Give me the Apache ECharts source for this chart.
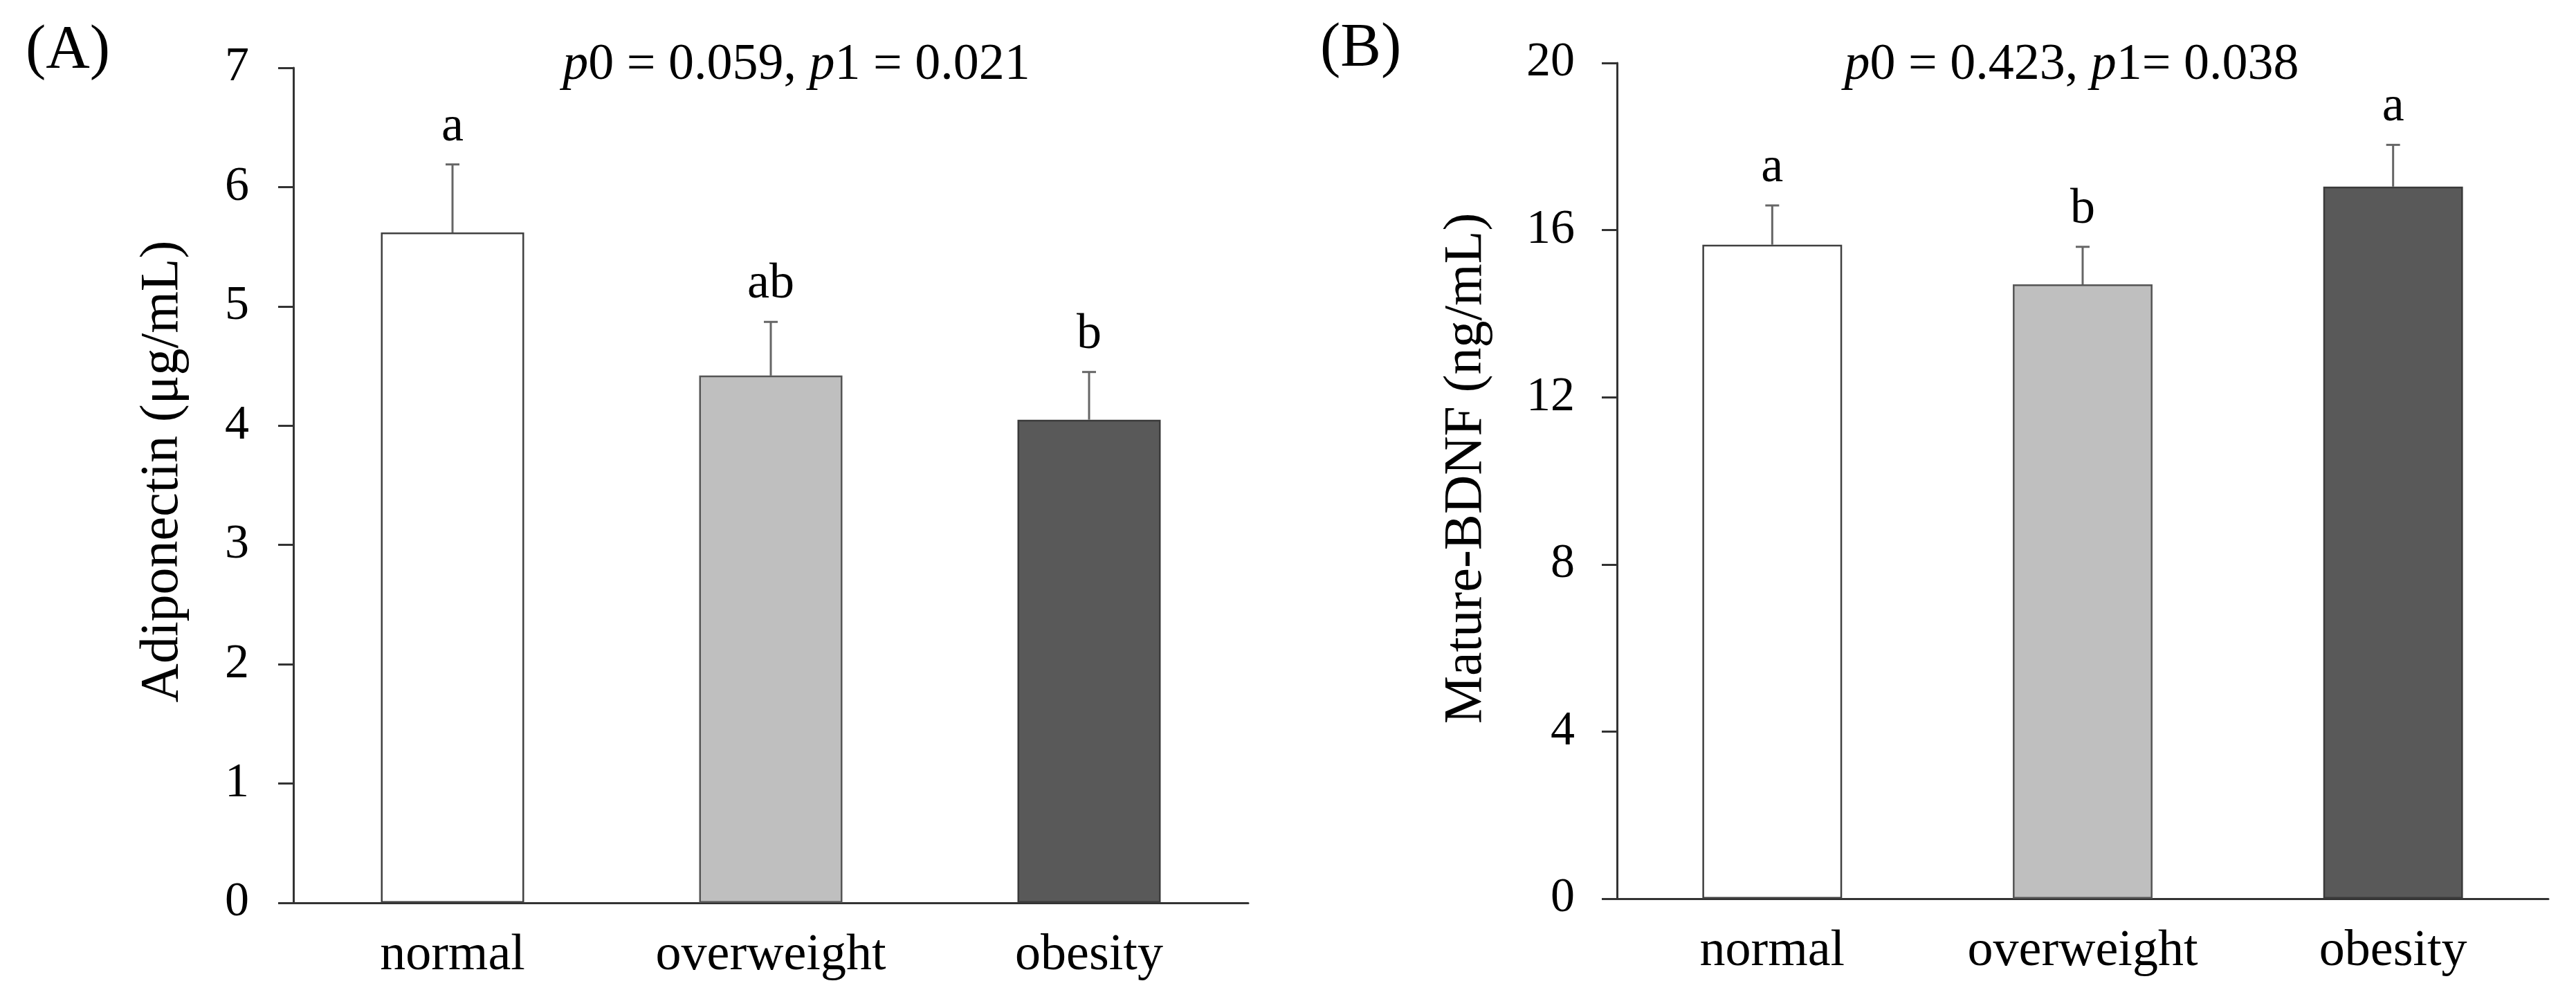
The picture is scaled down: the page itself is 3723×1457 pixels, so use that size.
<!DOCTYPE html>
<html>
<head>
<meta charset="utf-8">
<script src="https://cdn.jsdelivr.net/npm/echarts@6/dist/echarts.min.js"></script>
<style>
html,body{margin:0;padding:0;background:#fff;}
#chart{width:3723px;height:1457px;}
</style>
</head>
<body>
<div id="chart"></div>
<script>
const categories = ['normal', 'overweight', 'obesity'];
const adipoMean = [5.62, 4.42, 4.05];
const adipoErr = [0.57, 0.45, 0.40];
const adipoLetters = ['a', 'ab', 'b'];
const adipoP = ['0.059', '0.021'];
const bdnfMean = [15.65, 14.70, 17.04];
const bdnfErr = [0.94, 0.90, 1.00];
const bdnfLetters = ['a', 'b', 'a'];
const bdnfP = ['0.423', '0.038'];
const barFill = ['#FFFFFF', '#BFBFBF', '#595959'];
const barBorder = ['#404040', '#555555', '#3A3A3A'];

const FONT = '"Liberation Serif", "Times New Roman", serif';

const chart = echarts.init(document.getElementById('chart'), null, {renderer: 'canvas'});

function barSeries(idx, means) {
  return {
    type: 'bar', xAxisIndex: idx, yAxisIndex: idx,
    barWidth: '45%',
    data: means.map((v, i) => ({
      value: v,
      itemStyle: {color: barFill[i], borderColor: barBorder[i], borderWidth: 2.5}
    })),
    silent: true, animation: false
  };
}

function errSeries(idx, means, errs, letters) {
  return {
    type: 'custom', xAxisIndex: idx, yAxisIndex: idx,
    data: means.map((m, i) => [i, m, errs[i]]),
    renderItem: function (params, api) {
      const i = params.dataIndex;
      const p0 = api.coord([api.value(0), api.value(1)]);
      const p1 = api.coord([api.value(0), api.value(1) + api.value(2)]);
      const ls = {stroke: '#666666', lineWidth: 3};
      return {
        type: 'group',
        children: [
          {type: 'line', shape: {x1: p0[0], y1: p0[1], x2: p1[0], y2: p1[1]}, style: ls},
          {type: 'line', shape: {x1: p1[0] - 10, y1: p1[1], x2: p1[0] + 10, y2: p1[1]}, style: ls},
          {type: 'text', style: {x: p1[0], y: p1[1] - 18, text: letters[i], align: 'center', verticalAlign: 'bottom',
            fontSize: 72, fontFamily: FONT, fill: '#000'}}
        ]
      };
    },
    z: 5, silent: true, animation: false
  };
}

function xAxisCfg(gi) {
  return {
    type: 'category', gridIndex: gi, data: categories, boundaryGap: true,
    axisTick: {show: false},
    axisLine: {lineStyle: {color: '#333333', width: 3}},
    axisLabel: {fontSize: 74, fontFamily: FONT, color: '#000', margin: 40}
  };
}

function yAxisCfg(gi, max, interval, name, gap, pad, margin) {
  return {
    type: 'value', gridIndex: gi, min: 0, max: max, interval: interval,
    name: name, nameLocation: 'middle', nameGap: gap, nameRotate: 90,
    nameTextStyle: {fontSize: 78, fontFamily: FONT, color: '#000', padding: [0, 0, 0, pad]},
    axisLine: {show: true, lineStyle: {color: '#333333', width: 3}},
    axisTick: {show: true, inside: false, length: 22, lineStyle: {color: '#333333', width: 3}},
    splitLine: {show: false},
    axisLabel: {fontSize: 70, fontFamily: FONT, color: '#000', margin: margin}
  };
}

function pText(vals, sep) {
  return '{i|p}0 = ' + vals[0] + ', {i|p}1' + sep + '= ' + vals[1];
}

const option = {
  backgroundColor: '#ffffff',
  animation: false,
  grid: [
    {left: 424, top: 98, width: 1380, height: 1207},
    {left: 2337, top: 91, width: 1346, height: 1208}
  ],
  xAxis: [xAxisCfg(0), xAxisCfg(1)],
  yAxis: [
    yAxisCfg(0, 7, 1, 'Adiponectin (μg/mL)', 149, 40, 64),
    yAxisCfg(1, 20, 4, 'Mature-BDNF (ng/mL)', 178, 36, 61)
  ],
  series: [
    barSeries(0, adipoMean),
    errSeries(0, adipoMean, adipoErr, adipoLetters),
    barSeries(1, bdnfMean),
    errSeries(1, bdnfMean, bdnfErr, bdnfLetters)
  ],
  graphic: [
    {type: 'text', left: 37, top: 30, style: {text: '(A)', fontSize: 88, fontFamily: FONT, fill: '#000'}},
    {type: 'text', left: 1908, top: 27, style: {text: '(B)', fontSize: 88, fontFamily: FONT, fill: '#000'}},
    {type: 'text', x: 1151, y: 95, style: {text: pText(adipoP, ' '), align: 'center', verticalAlign: 'middle',
      fontSize: 74, fontFamily: FONT, fill: '#000', rich: {i: {fontStyle: 'italic', fontSize: 74, fontFamily: FONT}}}},
    {type: 'text', x: 2994, y: 95, style: {text: pText(bdnfP, ''), align: 'center', verticalAlign: 'middle',
      fontSize: 74, fontFamily: FONT, fill: '#000', rich: {i: {fontStyle: 'italic', fontSize: 74, fontFamily: FONT}}}}
  ]
};
chart.setOption(option);
</script>
</body>
</html>
